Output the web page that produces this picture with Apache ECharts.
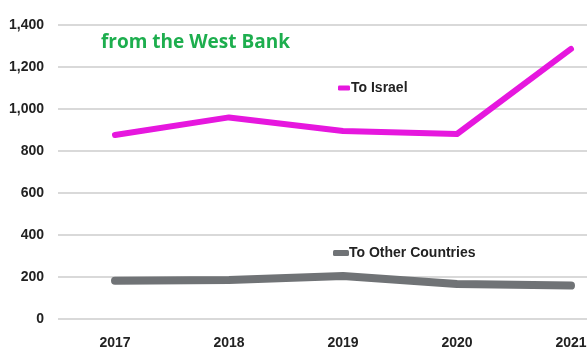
<!DOCTYPE html>
<html>
<head>
<meta charset="utf-8">
<script src="https://cdn.jsdelivr.net/npm/echarts@6/dist/echarts.min.js"></script>
<style>
  html, body { margin: 0; padding: 0; background: #ffffff; }
  #chart { width: 587px; height: 352px; }
</style>
</head>
<body>
<div id="chart"></div>
<script>
// Workers from the West Bank, by destination
var years = ['2017', '2018', '2019', '2020', '2021'];
var toIsrael = [876, 960, 895, 881, 1286];
var toOtherCountries = [182, 186, 205, 167, 159];
var yTicks = [0, 200, 400, 600, 800, 1000, 1200, 1400];

var FONT = '"Liberation Sans", Arial, sans-serif';

var chart = echarts.init(document.getElementById('chart'), null, { renderer: 'canvas' });

chart.setOption({
  animation: false,
  backgroundColor: '#ffffff',
  title: {
    text: 'from the West Bank',
    left: 96,
    top: 28,
    textStyle: {
      color: '#1DAE4E',
      fontFamily: '"Open Sans", sans-serif',
      fontWeight: 'bold',
      fontSize: 19
    }
  },
  legend: [
    {
      data: ['To Israel'],
      left: 333,
      top: 76,
      icon: 'roundRect',
      itemWidth: 12,
      itemHeight: 5,
      itemGap: 2,
      textStyle: { fontFamily: FONT, fontWeight: 'bold', fontSize: 14, color: '#222222', padding: [0, 0, 0, -4] }
    },
    {
      data: ['To Other Countries'],
      left: 328,
      top: 241,
      icon: 'roundRect',
      itemWidth: 16,
      itemHeight: 6,
      textStyle: { fontFamily: FONT, fontWeight: 'bold', fontSize: 14, color: '#222222', padding: [0, 0, 0, -5] }
    }
  ],
  grid: {
    left: 58,
    top: 25,
    width: 570,
    height: 294,
    outerBoundsMode: 'none',
    containLabel: false
  },
  xAxis: {
    type: 'category',
    data: years,
    boundaryGap: true,
    axisLine: { show: false },
    axisTick: { show: false },
    axisLabel: {
      margin: 17,
      color: '#222222',
      fontFamily: FONT,
      fontWeight: 'bold',
      fontSize: 14
    }
  },
  yAxis: {
    type: 'value',
    min: yTicks[0],
    max: yTicks[yTicks.length - 1],
    interval: 200,
    axisLine: { show: false },
    axisTick: { show: false },
    splitLine: { lineStyle: { color: '#d9d9d9', width: 2 } },
    axisLabel: {
      margin: 14,
      color: '#222222',
      fontFamily: FONT,
      fontWeight: 'bold',
      fontSize: 14,
      formatter: function (v) { return v.toLocaleString('en-US'); }
    }
  },
  series: [
    {
      name: 'To Israel',
      type: 'line',
      data: toIsrael,
      symbol: 'none',
      color: '#E617DE',
      lineStyle: { width: 6, color: '#E617DE', cap: 'round', join: 'round' }
    },
    {
      name: 'To Other Countries',
      type: 'line',
      data: toOtherCountries,
      symbol: 'none',
      color: '#707376',
      lineStyle: { width: 8, color: '#707376', cap: 'round', join: 'round' }
    }
  ]
});
</script>
</body>
</html>
